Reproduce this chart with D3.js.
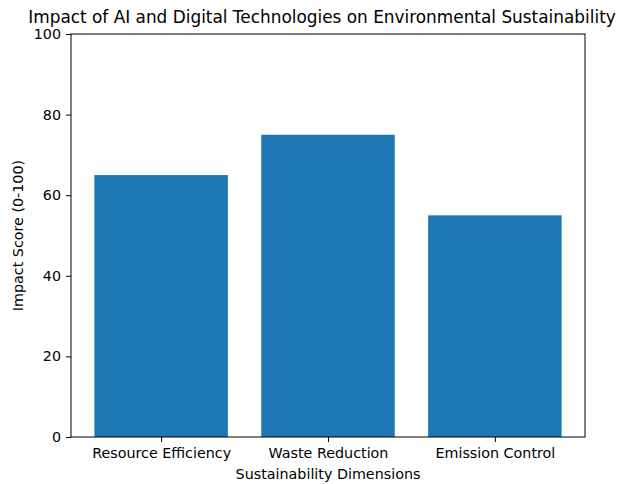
<!DOCTYPE html>
<html>
<head>
<meta charset="utf-8">
<script src="https://cdn.jsdelivr.net/npm/d3@7"></script>
<style>
  body { margin: 0; background: #fff; }
  text { font-family: "DejaVu Sans", sans-serif; fill: #000; }
</style>
</head>
<body>
<div id="viz"></div>
<script>
// chart data
const categories = ["Resource Efficiency", "Waste Reduction", "Emission Control"];
const scores = [65, 75, 55];
const yTicks = [0, 20, 40, 60, 80, 100];

const width = 624;
const height = 484;
const margin = {left: 71, right: 39, top: 34, bottom: 47};

const svg = d3.select("#viz").append("svg")
    .attr("width", width)
    .attr("height", height);

const innerW = width - margin.left - margin.right;
const innerH = height - margin.top - margin.bottom;

// matplotlib style x: bars at 0..n-1, width 0.8, 5% margins
const n = categories.length;
const lo = -0.4, hi = n - 1 + 0.4;
const pad = (hi - lo) * 0.05;
const x = d3.scaleLinear()
    .domain([lo - pad, hi + pad])
    .range([margin.left, margin.left + innerW]);

const y = d3.scaleLinear()
    .domain([0, 100])
    .range([margin.top + innerH, margin.top]);

svg.selectAll("rect.bar")
    .data(scores)
    .enter()
    .append("rect")
    .attr("class", "bar")
    .attr("x", (d, i) => x(i - 0.4))
    .attr("width", x(0.4) - x(-0.4))
    .attr("y", d => y(d))
    .attr("height", d => y(0) - y(d))
    .attr("fill", "#1f77b4");

// axes
const xAxis = d3.axisBottom(x)
    .tickValues(d3.range(n))
    .tickFormat(i => categories[i])
    .tickSizeOuter(0)
    .tickSize(5)
    .tickPadding(6);

const yAxis = d3.axisLeft(y)
    .tickValues(yTicks)
    .tickSizeOuter(0)
    .tickSize(5)
    .tickPadding(5);

const gx = svg.append("g")
    .attr("transform", `translate(0,${margin.top + innerH})`)
    .call(xAxis);

const gy = svg.append("g")
    .attr("transform", `translate(${margin.left},0)`)
    .call(yAxis);

[gx, gy].forEach(g => {
    g.select(".domain").remove();
    g.selectAll("line").attr("stroke", "#000").attr("stroke-width", 1);
    g.selectAll("text").style("font-size", "14.3px").attr("fill", "#222");
});

// frame
svg.append("rect")
    .attr("x", margin.left)
    .attr("y", margin.top)
    .attr("width", innerW)
    .attr("height", innerH)
    .attr("fill", "none")
    .attr("stroke", "#000")
    .attr("stroke-width", 1);

// labels
svg.append("text")
    .attr("x", 322)
    .attr("y", 23)
    .attr("text-anchor", "middle")
    .style("font-size", "16.9px")
    .text("Impact of AI and Digital Technologies on Environmental Sustainability");

svg.append("text")
    .attr("x", margin.left + innerW / 2)
    .attr("y", 479)
    .attr("text-anchor", "middle")
    .style("font-size", "14.3px")
    .attr("fill", "#222")
    .text("Sustainability Dimensions");

svg.append("text")
    .attr("transform", `translate(23,${margin.top + innerH / 2}) rotate(-90)`)
    .attr("text-anchor", "middle")
    .style("font-size", "14.3px")
    .attr("fill", "#222")
    .text("Impact Score (0-100)");
</script>
</body>
</html>
